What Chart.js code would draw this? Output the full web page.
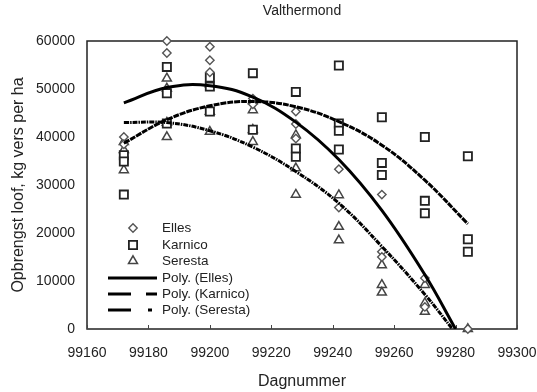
<!DOCTYPE html>
<html>
<head>
<meta charset="utf-8">
<script src="https://cdn.jsdelivr.net/npm/chart.js@4.4.1/dist/chart.umd.min.js"></script>
<style>
    body { margin: 0; background: #fff; }
</style>
</head>
<body>
<canvas id="chart" width="537" height="392"></canvas>
<script>
// measured points, one entry per plant sample
const ellesDay = [99172, 99172, 99186, 99186, 99200, 99200, 99200, 99214, 99214, 99228, 99228, 99228, 99242, 99242, 99256, 99256, 99256, 99270, 99270, 99284];
const ellesYield = [40000, 38500, 60000, 57500, 58800, 56000, 53500, 48000, 46800, 45300, 42700, 39700, 33300, 25300, 28000, 16100, 15000, 10600, 4600, 0];

const karnicoDay = [99172, 99172, 99172, 99186, 99186, 99186, 99200, 99200, 99200, 99214, 99214, 99228, 99228, 99228, 99242, 99242, 99242, 99242, 99256, 99256, 99256, 99270, 99270, 99270, 99284, 99284, 99284];
const karnicoYield = [36200, 34900, 28000, 54600, 49100, 42800, 52400, 50500, 45300, 53300, 41500, 49400, 37600, 35900, 54900, 42800, 41300, 37400, 44100, 34600, 32100, 40000, 26700, 24100, 36000, 18700, 16100];

const serestaDay = [99172, 99172, 99172, 99186, 99186, 99186, 99186, 99200, 99200, 99200, 99214, 99214, 99214, 99214, 99228, 99228, 99228, 99242, 99242, 99242, 99256, 99256, 99256, 99270, 99270, 99270, 99284];
const serestaYield = [39000, 37300, 33100, 52200, 50100, 43000, 40000, 51000, 45300, 41100, 47500, 45600, 41500, 39000, 40400, 33500, 28000, 27900, 21300, 18500, 13300, 9200, 7600, 9200, 5400, 3600, 0];

// trendlines
const polyEllesDay = [99172, 99186, 99200, 99214, 99228, 99242, 99256, 99270, 99280];
const polyEllesYield = [47100, 50300, 50700, 48300, 43100, 35300, 24700, 11300, 0];

const polyKarnicoDay = [99172, 99186, 99200, 99214, 99228, 99242, 99256, 99270, 99284];
const polyKarnicoYield = [38700, 43600, 46500, 47400, 46300, 43200, 38300, 31000, 21900];

const polySerestaDay = [99172, 99186, 99200, 99214, 99228, 99242, 99256, 99270, 99279];
const polySerestaYield = [43000, 43000, 41300, 37900, 32800, 26200, 17200, 7200, 0];

const xTicks = [99160, 99180, 99200, 99220, 99240, 99260, 99280, 99300];

const chartTitle = 'Valthermond';

const toPoints = (days, values) => days.map((d, i) => ({ x: d, y: values[i] }));

const fontFamily = "'Liberation Sans', Arial, sans-serif";
const textColor = '#222';

const markerSet = (label, days, values, style, radius, color, width) => ({
    label: label,
    data: toPoints(days, values),
    showLine: false,
    pointStyle: style,
    pointRadius: radius,
    pointHoverRadius: radius,
    pointBorderColor: color,
    pointBackgroundColor: '#fff',
    pointBorderWidth: width,
    clip: false,
    order: 1
});

const trendSet = (label, days, values, dash, legendDash) => ({
    label: label,
    data: toPoints(days, values),
    showLine: true,
    borderColor: '#000',
    borderWidth: 3,
    borderDash: dash,
    legendDash: legendDash,
    pointRadius: 0,
    tension: 0.4,
    fill: false,
    order: 0
});

function drawShape(ctx, style, r, x, y) {
    if (style === 'rectRot') {
        ctx.moveTo(x, y - r); ctx.lineTo(x + r, y); ctx.lineTo(x, y + r); ctx.lineTo(x - r, y); ctx.closePath();
    } else if (style === 'rect') {
        const s = r * Math.SQRT1_2;
        ctx.rect(x - s, y - s, 2 * s, 2 * s);
    } else {
        ctx.moveTo(x, y - r); ctx.lineTo(x + r * 0.866, y + r * 0.5); ctx.lineTo(x - r * 0.866, y + r * 0.5); ctx.closePath();
    }
}

// legend sits inside the plot, bottom-left
const insideLegend = {
    id: 'insideLegend',
    afterDraw(chart) {
        const ctx = chart.ctx;
        const rowY = [228, 245, 261, 278, 294, 310];
        ctx.save();
        ctx.font = '13.5px ' + fontFamily;
        ctx.textBaseline = 'middle';
        chart.data.datasets.forEach((ds, i) => {
            const y = rowY[i];
            if (ds.showLine) {
                ctx.strokeStyle = '#000';
                ctx.lineWidth = 3;
                ctx.setLineDash(ds.legendDash);
                ctx.beginPath();
                ctx.moveTo(108, y);
                ctx.lineTo(157, y);
                ctx.stroke();
                ctx.setLineDash([]);
            } else {
                ctx.fillStyle = '#fff';
                ctx.strokeStyle = ds.pointBorderColor;
                ctx.lineWidth = ds.pointBorderWidth;
                ctx.beginPath();
                drawShape(ctx, ds.pointStyle, ds.pointRadius, 133, y);
                ctx.fill();
                ctx.stroke();
            }
            ctx.fillStyle = textColor;
            ctx.fillText(ds.label, 162, y);
        });
        ctx.restore();
    }
};

// box round the plot area, small inward ticks on x, title centred on the plot
const plotFrame = {
    id: 'plotFrame',
    beforeDatasetsDraw(chart) {
        const { ctx, chartArea: a, scales } = chart;
        ctx.save();
        ctx.strokeStyle = '#222';
        ctx.lineWidth = 1.5;
        ctx.strokeRect(a.left, a.top, a.right - a.left, a.bottom - a.top);
        ctx.lineWidth = 1;
        ctx.strokeStyle = '#444';
        xTicks.forEach(t => {
            const px = Math.round(scales.x.getPixelForValue(t)) + 0.5;
            ctx.beginPath();
            ctx.moveTo(px, a.bottom);
            ctx.lineTo(px, a.bottom - 4);
            ctx.stroke();
        });
        ctx.fillStyle = textColor;
        ctx.font = '14px ' + fontFamily;
        ctx.textAlign = 'center';
        ctx.textBaseline = 'middle';
        ctx.fillText(chartTitle, (a.left + a.right) / 2, 11);
        ctx.restore();
    }
};

new Chart(document.getElementById('chart'), {
    type: 'scatter',
    data: {
        datasets: [
            markerSet('Elles', ellesDay, ellesYield, 'rectRot', 4.2, '#555', 1.4),
            markerSet('Karnico', karnicoDay, karnicoYield, 'rect', 5.8, '#222', 1.8),
            markerSet('Seresta', serestaDay, serestaYield, 'triangle', 5.2, '#444', 1.5),
            trendSet('Poly. (Elles)', polyEllesDay, polyEllesYield, [], []),
            trendSet('Poly. (Karnico)', polyKarnicoDay, polyKarnicoYield, [6, 1], [23, 15]),
            trendSet('Poly. (Seresta)', polySerestaDay, polySerestaYield, [5, 1, 1.5, 1], [23, 17, 4, 17])
        ]
    },
    options: {
        responsive: false,
        animation: false,
        layout: { padding: { left: 0, right: 0, top: 41, bottom: 0 } },
        plugins: {
            legend: { display: false },
            tooltip: { enabled: false },
            title: { display: false }
        },
        scales: {
            x: {
                type: 'linear',
                min: 99160,
                max: 99300,
                afterFit: s => { s.height = 63; s.paddingRight = 20; },
                afterBuildTicks: s => { s.ticks = xTicks.map(v => ({ value: v })); },
                grid: { display: false, drawTicks: false },
                border: { display: false },
                ticks: {
                    color: textColor,
                    padding: 16,
                    font: { family: fontFamily, size: 14 },
                    callback: v => String(v)
                },
                title: {
                    display: true,
                    text: 'Dagnummer',
                    color: textColor,
                    font: { family: fontFamily, size: 16 },
                    padding: { top: 0, bottom: 1 }
                }
            },
            y: {
                min: 0,
                max: 60000,
                afterFit: s => { s.width = 87; },
                grid: { display: false, drawTicks: false },
                border: { display: false },
                ticks: {
                    stepSize: 10000,
                    color: textColor,
                    padding: 12,
                    font: { family: fontFamily, size: 14 },
                    callback: v => String(v)
                },
                title: {
                    display: true,
                    text: 'Opbrengst loof, kg vers per ha',
                    color: textColor,
                    font: { family: fontFamily, size: 16 },
                    padding: { top: 9, bottom: 0 }
                }
            }
        }
    },
    plugins: [plotFrame, insideLegend]
});
</script>
</body>
</html>
